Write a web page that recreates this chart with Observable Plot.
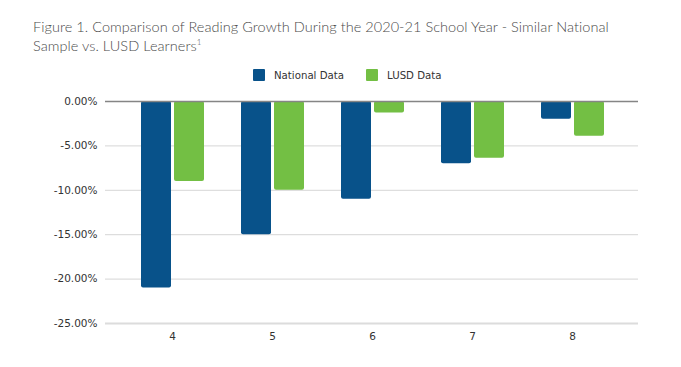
<!DOCTYPE html>
<html>
<head>
<meta charset="utf-8">
<script src="https://cdn.jsdelivr.net/npm/d3@7"></script>
<script src="https://cdn.jsdelivr.net/npm/@observablehq/plot@0.6"></script>
<style>
  body { margin: 0; background: #fff; }
  #wrap { width: 681px; height: 367px; position: relative; overflow: hidden; }
  #title { position: absolute; left: 33px; top: 17px; font-family: Lato, "Open Sans", sans-serif; font-weight: 300; font-size: 14.5px; line-height: 19px; color: #4a4a4a; white-space: nowrap; }
  #title sup { font-size: 8px; vertical-align: 6px; line-height: 0; }
  #legend { position: absolute; top: 69px; left: 253px; height: 12px; font-family: "DejaVu Sans", Verdana, sans-serif; font-size: 10.2px; color: #333; white-space: nowrap; display: flex; align-items: center; }
  .item { display: inline-flex; align-items: center; margin-right: 22px; height: 12px; }
  .sw { display: inline-block; width: 12px; height: 12px; margin-right: 9px; border-radius: 1px; }
  #chart { position: absolute; top: 90px; left: 0; }
</style>
</head>
<body>
<div id="wrap">
  <div id="title"><span id="t1">Figure 1. Comparison of Reading Growth During the 2020-21 School Year - Similar National</span><br><span id="t2">Sample vs. LUSD Learners<sup>1</sup></span></div>
  <div id="legend"></div>
  <div id="chart"></div>
</div>
<script>
const grades = ["4", "5", "6", "7", "8"];
const national = [-21, -15, -11, -7, -2];
const lusd = [-9, -10, -1.3, -6.4, -3.9];
const seriesNames = ["National Data", "LUSD Data"];
const seriesColors = ["#08528a", "#73bf44"];
const yTicks = [0, -5, -10, -15, -20, -25];

const natData = grades.map((g, i) => ({grade: g, value: national[i]}));
const lusdData = grades.map((g, i) => ({grade: g, value: lusd[i]}));

// fit the title's first line to the reference's width with letter spacing
const t1 = document.getElementById("t1");
const w = t1.getBoundingClientRect().width;
const ls = (576 - w) / t1.textContent.length;
document.getElementById("title").style.letterSpacing = ls + "px";

const legend = document.getElementById("legend");
seriesNames.forEach((name, i) => {
  const it = document.createElement("span");
  it.className = "item";
  const sw = document.createElement("span");
  sw.className = "sw";
  sw.style.background = seriesColors[i];
  it.appendChild(sw);
  it.appendChild(document.createTextNode(name));
  legend.appendChild(it);
});

const chart = Plot.plot({
  width: 681,
  height: 277,
  marginLeft: 105,
  marginRight: 43,
  marginTop: 11,
  marginBottom: 44,
  style: { fontFamily: "'DejaVu Sans', Verdana, sans-serif", fontSize: "10.5px", color: "#333", background: "#fff" },
  x: { domain: grades, paddingInner: 0, paddingOuter: 0.165, label: null, tickSize: 0, tickPadding: 9 },
  y: { domain: [-25, 0], ticks: yTicks, tickFormat: d => d.toFixed(2) + "%", tickSize: 0, tickPadding: 8, label: null },
  marks: [
    Plot.ruleY(yTicks.filter(d => d !== 0 && d !== -25), { stroke: "#d6d6d6" }),
    Plot.ruleY([-25], { stroke: "#dcdcdc", strokeWidth: 2 }),
    Plot.barY(natData, { x: "grade", y: "value", fill: seriesColors[0], insetLeft: 19, insetRight: 51, rx: 2 }),
    Plot.barY(lusdData, { x: "grade", y: "value", fill: seriesColors[1], insetLeft: 52, insetRight: 18, rx: 2 }),
    Plot.ruleY([0], { stroke: "#858585", strokeWidth: 1.5 })
  ]
});
document.getElementById("chart").appendChild(chart);
</script>
</body>
</html>
